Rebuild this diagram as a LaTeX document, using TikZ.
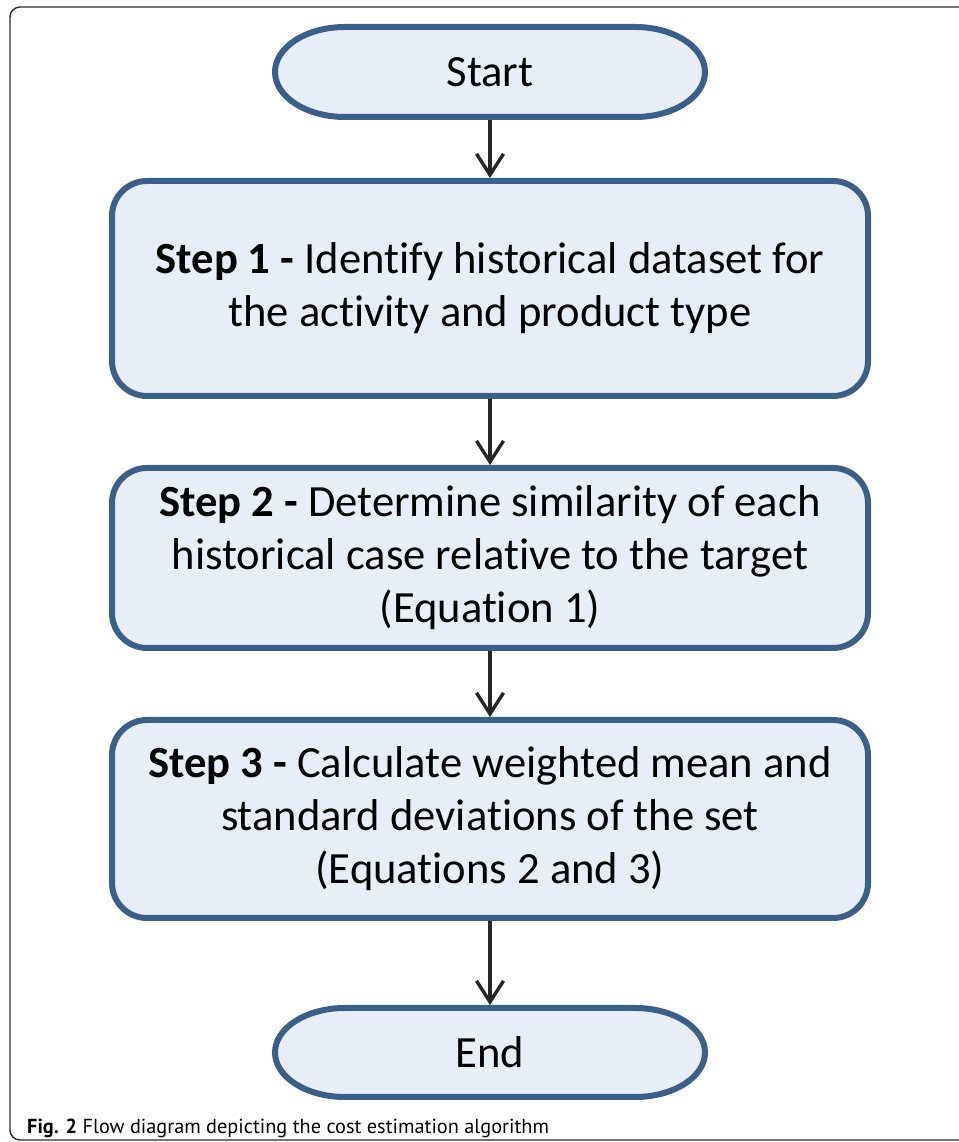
\documentclass[tikz,border=0pt]{standalone}
\usepackage{fontspec}
\setmainfont[Ligatures={NoCommon}]{Carlito}
\newfontfamily\capfont[Ligatures={NoCommon}]{PT Sans}
\usetikzlibrary{arrows.meta,calc}
\definecolor{boxline}{HTML}{3A5F8B}
\definecolor{boxfill}{HTML}{E8EEF7}
\definecolor{arrowcol}{HTML}{262626}
\definecolor{framecol}{HTML}{2A2A2A}
\tikzset{
  txt/.style={font=\fontsize{44.6}{53}\selectfont},
  stepbox/.style={txt, draw=boxline, fill=boxfill, line width=6pt, rounded corners=35pt,
    minimum width=756pt, align=center, inner sep=0pt, outer sep=3pt},
  termnode/.style={minimum width=430pt, inner sep=0pt, outer sep=3pt},
  termpath/.style={draw=boxline, fill=boxfill, line width=6pt},
  flowarrow/.style={draw=arrowcol, line width=3.4pt, -{Straight Barb[length=21pt,width=27pt]}},
}
\begin{document}
\begin{tikzpicture}[x=1pt,y=1pt]
\useasboundingbox (0,0) rectangle (958,1142);
% frame
\draw[framecol, line width=1.4pt, rounded corners=10pt] (10,2) rectangle (990,1135);
% terminators
\node[termnode, minimum height=90pt] (start) at (490,1070) {};
\node[termnode, minimum height=89pt] (end) at (490,89.5) {};
\foreach \n/\ry in {start/45,end/44.5}{
  \path[termpath] ($(\n.center)+(-145,\ry)$) -- ($(\n.center)+(145,\ry)$)
    arc[start angle=90, end angle=-90, x radius=70, y radius=\ry]
    -- ($(\n.center)+(-145,-\ry)$)
    arc[start angle=270, end angle=90, x radius=70, y radius=\ry] -- cycle;
}
\node[txt] (starttext) at (start.center) {Start};
\node[txt] (endtext) at (end.center) {End};
% steps
\node[stepbox, minimum height=215pt] (s1) at (490,853.5)
  {\textbf{Step 1 -} Identify historical dataset for\\the activity and product type};
\node[stepbox, minimum height=180pt] (s2) at (490,584)
  {\textbf{Step 2 -} Determine similarity of each\\historical case relative to the target\\(Equation 1)};
\node[stepbox, minimum height=198pt] (s3) at (490,323)
  {\textbf{Step 3 -} Calculate weighted mean and\\standard deviations of the set\\(Equations 2 and 3)};
% arrows
\draw[flowarrow] (start.south) -- (s1.north);
\draw[flowarrow] (s1.south) -- (s2.north);
\draw[flowarrow] (s2.south) -- (s3.north);
\draw[flowarrow] (s3.south) -- (end.north);
% caption
\node[anchor=base west, inner sep=0pt, font=\capfont\fontsize{20.3}{24}\selectfont] (cap) at (27,9)
  {\textbf{Fig. 2} Flow diagram depicting the cost estimation algorithm};
\end{tikzpicture}
\end{document}
